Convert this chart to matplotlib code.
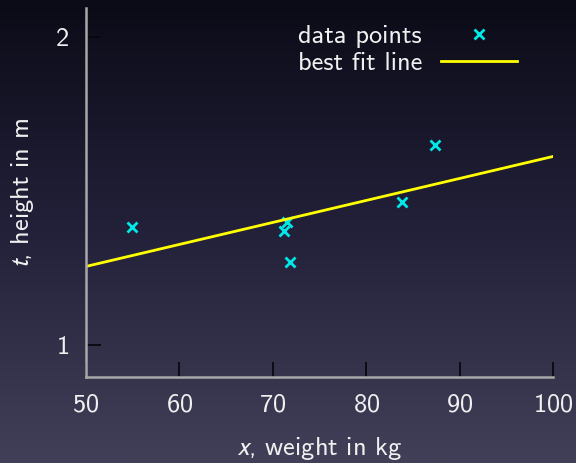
import numpy as np
import matplotlib
matplotlib.use("Agg")
import matplotlib.pyplot as plt
from matplotlib.colors import LinearSegmentedColormap

# data
weight = [54.9, 71.5, 71.2, 71.8, 83.8, 87.4]
height = [1.384, 1.40, 1.37, 1.268, 1.463, 1.649]
fit_x = [50, 100]
fit_t = [1.255, 1.612]
xticks = [50, 60, 70, 80, 90, 100]
yticks = [1, 2]

plt.rcParams["font.family"] = ["cmss10", "DejaVu Sans"]
plt.rcParams["mathtext.fontset"] = "stixsans"
plt.rcParams["axes.formatter.use_mathtext"] = True

fig = plt.figure(figsize=(5.76, 4.63), dpi=100)

# background gradient
bg = fig.add_axes([0, 0, 1, 1], zorder=-10)
cmap = LinearSegmentedColormap.from_list("bg", ["#0b0b17", "#23213a", "#423f58"])
grad = np.linspace(0, 1, 256).reshape(-1, 1)
bg.imshow(grad, aspect="auto", cmap=cmap, extent=[0, 1, 0, 1], origin="upper")
bg.axis("off")

ax = fig.add_axes([86 / 576, 1 - 377 / 463, (553 - 86) / 576, (377 - 8) / 463])
ax.patch.set_alpha(0)

ax.plot(weight, height, "x", color="#00e8e8", ms=7.5, mew=2, label="data points")
ax.plot(fit_x, fit_t, color="#ffff00", lw=2, label="best fit line")

ax.set_xlim(50, 100)
ax.set_ylim(0.896, 2.094)
ax.set_xticks(xticks)
ax.set_yticks(yticks)

for s in ["top", "right"]:
    ax.spines[s].set_visible(False)
for s in ["left", "bottom"]:
    ax.spines[s].set_color("#a8a8a8")
    ax.spines[s].set_linewidth(1.8)

ax.tick_params(direction="in", length=11, width=1.3, color="#080810",
               labelcolor="#f0f0f0", labelsize=19, pad=12)

ax.set_xlabel("$x$, weight in kg", color="#f0f0f0", fontsize=19, labelpad=13)
ax.set_ylabel("$t$, height in m", color="#f0f0f0", fontsize=19, labelpad=14)

leg = ax.legend(loc="upper right", bbox_to_anchor=(0.974, 1.02), frameon=False,
                markerfirst=False, fontsize=19, handlelength=2.9,
                handletextpad=0.7, labelspacing=0.15)
for t in leg.get_texts():
    t.set_color("#f0f0f0")

fig.savefig("out.png", dpi=100)
